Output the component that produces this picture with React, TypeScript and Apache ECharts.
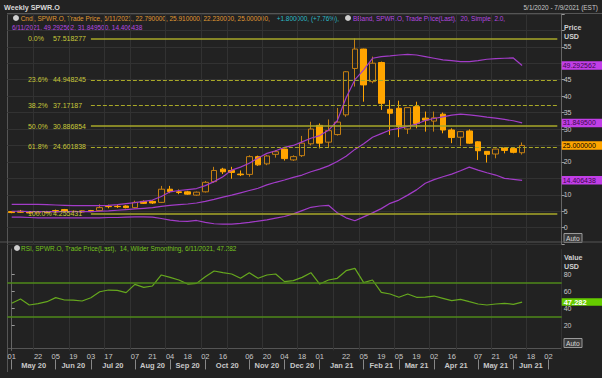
import React, { useEffect, useRef } from "react";
import * as echarts from "echarts";

const weeks = [
  "2020-05-01","2020-05-08","2020-05-15","2020-05-22","2020-05-29","2020-06-05","2020-06-12","2020-06-19","2020-06-26",
  "2020-07-03","2020-07-10","2020-07-17","2020-07-24","2020-07-31","2020-08-07","2020-08-14","2020-08-21","2020-08-28",
  "2020-09-04","2020-09-11","2020-09-18","2020-09-25","2020-10-02","2020-10-09","2020-10-16","2020-10-23","2020-10-30",
  "2020-11-06","2020-11-13","2020-11-20","2020-11-27","2020-12-04","2020-12-11","2020-12-18","2020-12-25","2021-01-01",
  "2021-01-08","2021-01-15","2021-01-22","2021-01-29","2021-02-05","2021-02-12","2021-02-19","2021-02-26","2021-03-05",
  "2021-03-12","2021-03-19","2021-03-26","2021-04-02","2021-04-09","2021-04-16","2021-04-23","2021-04-30","2021-05-07",
  "2021-05-14","2021-05-21","2021-05-28","2021-06-04","2021-06-11","2021-06-18","2021-06-25","2021-07-02","2021-07-09"
];

const opens = [4.9,5.0,4.8,4.5,4.9,5.2,5.5,4.9,5.1,5.2,5.2,6.5,6.5,6.6,6.1,8.0,8.0,7.7,11.7,10.9,10.9,9.9,10.9,14.0,17.8,17.4,16.3,16.2,21.6,19.4,22.3,23.9,20.6,21.9,25.5,31.1,26.0,28.3,34.3,48.4,54.3,44.4,50.2,36.0,36.3,30.0,36.8,33.3,32.4,34.5,29.7,27.5,29.4,26.1,23.2,22.4,24.2,24.1,22.79];
const closes = [4.6,4.7,4.5,4.8,4.6,4.8,5.1,5.0,4.8,4.9,6.1,6.4,6.4,6.1,7.7,7.4,7.5,11.7,11.0,10.7,10.2,10.8,13.8,17.4,17.0,16.8,16.1,21.6,19.1,21.8,23.1,21.0,21.6,25.7,30.0,25.7,29.5,32.1,47.4,54.3,43.4,50.0,37.8,34.8,30.7,36.5,31.7,32.7,33.4,29.7,27.4,29.2,25.7,23.4,22.3,23.9,23.5,22.9,25.0];
const lows = [4.4,4.5,4.26,4.4,4.4,4.6,4.9,4.6,4.5,4.7,5.0,5.9,6.0,5.9,5.9,7.2,7.2,7.5,10.5,10.2,10.0,9.7,10.7,13.6,16.3,14.9,15.7,15.5,18.8,19.0,21.3,20.4,20.3,21.5,25.0,24.1,24.2,28.0,33.7,42.9,38.3,43.9,35.8,28.2,27.5,28.5,30.2,29.2,29.2,28.7,25.7,24.8,25.5,20.6,19.8,21.1,22.6,22.6,22.23];
const highs = [5.0,5.4,5.0,5.0,5.1,5.5,5.7,5.3,5.2,5.4,7.1,7.0,7.0,6.8,8.2,8.3,8.3,12.7,12.7,11.6,11.2,11.0,14.2,18.5,18.2,18.5,17.4,22.0,21.9,22.1,23.6,24.0,22.0,27.9,32.2,31.7,32.9,36.4,47.6,57.518277,54.4,52.0,50.5,38.8,38.6,36.6,38.3,35.3,35.3,35.0,30.2,29.4,29.9,26.3,23.3,24.0,24.4,24.2,25.91];

const bbUpper = [7.1,7.1,7.1,7.1,7.0,6.9,6.8,6.7,6.7,6.7,6.7,6.8,7.0,7.3,7.6,8.0,8.4,9.5,10.9,11.3,11.6,11.9,12.8,14.0,15.5,17.5,18.4,19.6,21.2,22.6,23.4,24.4,25.0,26.1,27.2,28.0,29.6,32.5,39.5,45.0,48.0,51.5,52.0,52.2,52.5,52.7,52.5,52.0,51.5,51.0,50.8,50.5,50.5,50.8,51.2,51.4,51.5,51.6,49.292562];
const bbMiddle = [5.0,5.0,4.9,4.9,4.9,4.9,4.9,4.9,4.9,4.9,5.0,5.1,5.3,5.5,5.7,5.9,6.1,6.5,6.8,7.0,7.2,7.5,8.0,8.6,9.3,9.9,10.6,11.3,12.0,13.0,13.8,14.5,15.3,16.0,17.0,17.8,18.8,20.1,21.7,23.8,25.5,27.5,28.6,29.7,30.2,30.8,31.5,32.6,33.2,33.7,34.2,34.5,34.3,34.0,33.6,33.3,32.9,32.5,31.8495];
const bbLower = [3.2,3.2,3.1,3.0,3.0,3.0,3.0,3.0,3.0,3.0,3.0,3.1,3.1,3.2,3.3,3.3,3.2,2.8,2.3,2.0,1.9,2.2,1.6,1.2,1.1,1.1,1.3,1.6,2.0,2.4,2.9,3.4,4.2,5.2,6.2,6.6,6.8,4.5,3.0,2.1,3.3,4.5,5.8,7.4,8.4,9.9,11.5,13.5,14.6,15.5,16.3,17.3,18.4,17.5,16.7,16.0,15.0,14.7,14.406438];
const rsi = [45.8,50.9,43.8,45.5,47.7,52.5,49.7,49.5,48.5,52.4,59.5,61.5,61.0,58.4,68.2,64.7,66.3,79.3,76.5,73.4,68.6,69.4,77.3,84.0,82.0,80.5,75.4,82.0,75.4,79.3,80.5,71.4,72.6,76.5,82.0,68.6,73.4,75.4,84.4,87.2,70.2,73.4,58.8,56.8,52.9,56.8,52.9,53.1,54.4,51.7,48.9,50.5,47.7,45.0,43.8,45.0,45.8,44.6,47.282];

const fibPct = ["0.0%", "23.6%", "38.2%", "50.0%", "61.8%", "100.0%"];
const fibValue = [57.518277, 44.948245, 37.17187, 30.886854, 24.601838, 4.255431];
const fibDashed = [false, true, true, false, true, false];

const dayLabelIdx = [0,3,5,7,9,11,14,16,18,20,22,24,27,29,31,33,35,38,40,42,44,46,48,50,53,55,57,59,61];
const gridLineIdx = [3,7,11,14,18,22,25,29,33,37,40,44,48,51,55,59];
const monthStartIdx = [0,5,9,14,18,22,27,31,35,40,44,48,53,57,61];
const monthNames = ["May 20","Jun 20","Jul 20","Aug 20","Sep 20","Oct 20","Nov 20","Dec 20","Jan 21","Feb 21","Mar 21","Apr 21","May 21","Jun 21"];
// price labels visible on the axis (50, 25 and 15 sit under the value tags)
const priceLabels = [0,5,10,20,30,35,40,45,55];
const rsiTicks = [20,40,60,80];
const rsiBands = [70, 30];

const FONT = "Liberation Sans";
const BG = "#222222";
const AXIS_TXT = "#c8c8c8";
const ORANGE = "#ffa500";
const HOLLOW = "#c47f12";
const PURPLE = "#a23cc8";
const TAG_PURPLE = "#c23ee8";
const FIB = "#a8a828";
const FIB_TXT = "#c8c83a";
const GREEN = "#66a81e";
const GRIDC = "#323232";
const SX = 0.86;
const NOLINE = { color: "rgba(0,0,0,0)", width: 0 };

const txt = (x: number, y: number, text: string, fill: string, font: string, sx = SX, align = "left") => ({
  type: "text",
  x,
  y,
  scaleX: sx,
  style: { text, fill, font, textAlign: align, textVerticalAlign: "top", align, verticalAlign: "top" },
});

export default function App() {
  const ref = useRef<HTMLDivElement>(null);
  useEffect(() => {
    if (!ref.current) return;
    const chart = echarts.init(ref.current, null, { renderer: "svg" });
    const n = closes.length;
    const candleData = opens.map((o, i) => [o, closes[i], lows[i], highs[i]]);
    const last = n - 1;

    const fibLines = fibValue.map((v, k) => [
      {
        coord: [weeks[9], v],
        lineStyle: { color: FIB, width: fibDashed[k] ? 1 : 1.5, type: fibDashed[k] ? [4, 2] : "solid" },
        label: {
          show: true,
          position: "start",
          distance: 2,
          formatter: `{a|${fibPct[k]}}{b|${v}}`,
          rich: {
            a: { width: 25, align: "left", color: FIB_TXT, fontSize: 7, fontFamily: FONT },
            b: { width: 36, align: "left", color: FIB_TXT, fontSize: 7, fontFamily: FONT },
          },
        },
      },
      { coord: [weeks[weeks.length - 1], v] },
    ]);

    const tag = (v: number, bg: string, fg: string, text: string, bold = false) => ({
      yAxis: v,
      lineStyle: NOLINE,
      label: {
        show: true,
        position: "end",
        distance: 0,
        formatter: text,
        backgroundColor: bg,
        color: fg,
        opacity: 1,
        fontSize: bold ? 7.5 : 7,
        lineHeight: bold ? 6.5 : 7.5,
        fontWeight: bold ? "bold" : "normal",
        fontFamily: FONT,
        padding: bold ? [0.5, 2, 0.5, 2] : [0.5, 2, 0.5, 1],
        width: 38,
      },
    });

    const catAxisBase = {
      type: "category",
      data: weeks,
      boundaryGap: true,
      axisLine: { show: false },
      axisTick: { show: false },
      splitLine: {
        show: true,
        interval: (i: number) => gridLineIdx.includes(i),
        lineStyle: { color: GRIDC, width: 1 },
      },
    };

    const monthCenters = monthNames.map((_, k) => (monthStartIdx[k] + monthStartIdx[k + 1]) / 2);

    chart.setOption({
      animation: false,
      backgroundColor: BG,
      textStyle: { fontFamily: FONT },
      grid: [
        { left: 7.3, width: 554.4, top: 13.85, height: 230.3 },
        { left: 7.3, width: 554.4, top: 249.05, height: 101.4 },
      ],
      xAxis: [
        { ...catAxisBase, gridIndex: 0, axisLabel: { show: false } },
        {
          ...catAxisBase,
          gridIndex: 1,
          axisLabel: {
            show: true,
            interval: (i: number) => dayLabelIdx.includes(i),
            formatter: (v: string) => v.slice(8, 10),
            color: AXIS_TXT,
            fontSize: 7.5,
            margin: 2,
          },
        },
        {
          type: "value",
          gridIndex: 1,
          min: -0.5,
          max: 62.5,
          position: "bottom",
          offset: 9,
          axisLine: { show: false },
          splitLine: { show: false },
          axisTick: {
            show: true,
            customValues: monthStartIdx,
            length: 10,
            lineStyle: { color: "#888888" },
          },
          axisLabel: {
            show: true,
            customValues: monthCenters,
            formatter: (v: number) => {
              const k = monthCenters.indexOf(v);
              return k >= 0 ? monthNames[k] : "";
            },
            color: AXIS_TXT,
            fontSize: 7.5,
            fontWeight: "bold",
            margin: 2,
          },
        },
      ],
      yAxis: [
        {
          type: "value",
          gridIndex: 0,
          position: "right",
          min: -5,
          max: 65,
          interval: 5,
          axisLine: { show: true, lineStyle: { color: "#666666" } },
          axisTick: { show: true, length: 3, lineStyle: { color: "#999999" } },
          axisLabel: {
            color: AXIS_TXT,
            fontSize: 7,
            lineHeight: 7,
            margin: 2,
            customValues: priceLabels,
          },
          splitLine: { show: true, lineStyle: { color: GRIDC } },
        },
        {
          type: "value",
          gridIndex: 1,
          position: "right",
          min: -10,
          max: 110,
          interval: 10,
          axisLine: { show: true, lineStyle: { color: "#666666" } },
          axisTick: {
            show: true,
            length: 3,
            customValues: rsiTicks,
            lineStyle: { color: "#999999" },
          },
          axisLabel: {
            color: AXIS_TXT,
            fontSize: 7,
            lineHeight: 6.5,
            margin: 2,
            customValues: rsiTicks,
          },
          splitLine: { show: false },
        },
      ],
      series: [
        {
          type: "candlestick",
          xAxisIndex: 0,
          yAxisIndex: 0,
          data: candleData,
          barWidth: 6,
          itemStyle: {
            color: "transparent",
            color0: ORANGE,
            borderColor: HOLLOW,
            borderColor0: ORANGE,
            borderWidth: 1,
          },
          markLine: {
            symbol: "none",
            silent: true,
            data: [...fibLines, tag(closes[last], ORANGE, "#000000", closes[last].toFixed(6))],
          },
        },
        {
          type: "line",
          xAxisIndex: 0,
          yAxisIndex: 0,
          data: bbUpper,
          symbol: "none",
          lineStyle: { color: PURPLE, width: 1.2 },
          markLine: { symbol: "none", silent: true, data: [tag(bbUpper[last], TAG_PURPLE, "#3a0a4a", bbUpper[last].toFixed(6))] },
        },
        {
          type: "line",
          xAxisIndex: 0,
          yAxisIndex: 0,
          data: bbMiddle,
          symbol: "none",
          lineStyle: { color: PURPLE, width: 1.2 },
          markLine: { symbol: "none", silent: true, data: [tag(bbMiddle[last], TAG_PURPLE, "#3a0a4a", bbMiddle[last].toFixed(6))] },
        },
        {
          type: "line",
          xAxisIndex: 0,
          yAxisIndex: 0,
          data: bbLower,
          symbol: "none",
          lineStyle: { color: PURPLE, width: 1.2 },
          markLine: { symbol: "none", silent: true, data: [tag(bbLower[last], TAG_PURPLE, "#3a0a4a", bbLower[last].toFixed(6))] },
        },
        {
          type: "line",
          xAxisIndex: 1,
          yAxisIndex: 1,
          data: rsi,
          symbol: "none",
          lineStyle: { color: GREEN, width: 1.2 },
          markLine: {
            symbol: "none",
            silent: true,
            label: { show: false },
            lineStyle: { color: "#4f8a1a", width: 1.5, type: "solid" },
            data: [
              ...rsiBands.map((b) => ({ yAxis: b })),
              tag(rsi[last], "#66cc00", "#ffffff", rsi[last].toFixed(3), true),
            ],
          },
        },
      ],
      graphic: [
        txt(4, 3, "Weekly SPWR.O", "#d8d8d8", `bold 8px '${FONT}'`, 0.9),
        txt(598, 3, "5/1/2020 - 7/9/2021 (EST)", "#c8c8c8", `7.5px '${FONT}'`, 0.86, "right"),
        { type: "circle", shape: { cx: 16, cy: 18, r: 3 }, style: { fill: "#cfcfcf" } },
        txt(20.7, 14.5, "Cndl, SPWR.O, Trade Price, 6/11/2021, 22.790000, 25.910000, 22.230000, 25.000000,", "#e09a32", `7.5px '${FONT}'`),
        txt(276.7, 14.5, "+1.800000, (+7.76%),", "#2bbcc8", `7.5px '${FONT}'`),
        { type: "circle", shape: { cx: 348, cy: 18, r: 3 }, style: { fill: "#cfcfcf" } },
        txt(353, 14.5, "BBand, SPWR.O, Trade Price(Last),  20, Simple, 2.0,", "#b648e0", `7.5px '${FONT}'`),
        txt(12, 23.5, "6/11/2021, 49.292562, 31.849500, 14.406438", "#b648e0", `7.5px '${FONT}'`),
        txt(564, 23, "Price", "#d0d0d0", `bold 7.5px '${FONT}'`, 0.95),
        txt(564, 32, "USD", "#d0d0d0", `bold 7.5px '${FONT}'`, 0.95),
        { type: "circle", shape: { cx: 17, cy: 248, r: 3 }, style: { fill: "#cfcfcf" } },
        txt(21, 244.5, "RSI, SPWR.O, Trade Price(Last),  14, Wilder Smoothing, 6/11/2021, 47.282", "#76c41e", `7.5px '${FONT}'`),
        txt(564, 253, "Value", "#d0d0d0", `bold 7.5px '${FONT}'`, 0.95),
        txt(564, 262, "USD", "#d0d0d0", `bold 7.5px '${FONT}'`, 0.95),
        { type: "rect", shape: { x: 564, y: 233.5, width: 18, height: 9 }, style: { fill: "#3a3a3a", stroke: "#9a9a9a", lineWidth: 1 } },
        txt(566, 234.5, "Auto", "#d8d8d8", `7px '${FONT}'`, 0.95),
        { type: "rect", shape: { x: 564, y: 338.5, width: 18, height: 9 }, style: { fill: "#3a3a3a", stroke: "#9a9a9a", lineWidth: 1 } },
        txt(566, 339.5, "Auto", "#d8d8d8", `7px '${FONT}'`, 0.95),
        { type: "line", shape: { x1: 0, y1: 242, x2: 602, y2: 242 }, style: { stroke: "#555555", lineWidth: 1 } },
        { type: "line", shape: { x1: 7, y1: 13.5, x2: 602, y2: 13.5 }, style: { stroke: "#555555", lineWidth: 1 } },
        { type: "line", shape: { x1: 7, y1: 348.5, x2: 562, y2: 348.5 }, style: { stroke: "#555555", lineWidth: 1 } },
        { type: "line", shape: { x1: 7.5, y1: 13.5, x2: 7.5, y2: 372 }, style: { stroke: "#555555", lineWidth: 1 } },
      ],
    });
    return () => chart.dispose();
  }, []);
  return <div ref={ref} style={{ width: 602, height: 378, position: "absolute", left: 0, top: 0 }} />;
}
